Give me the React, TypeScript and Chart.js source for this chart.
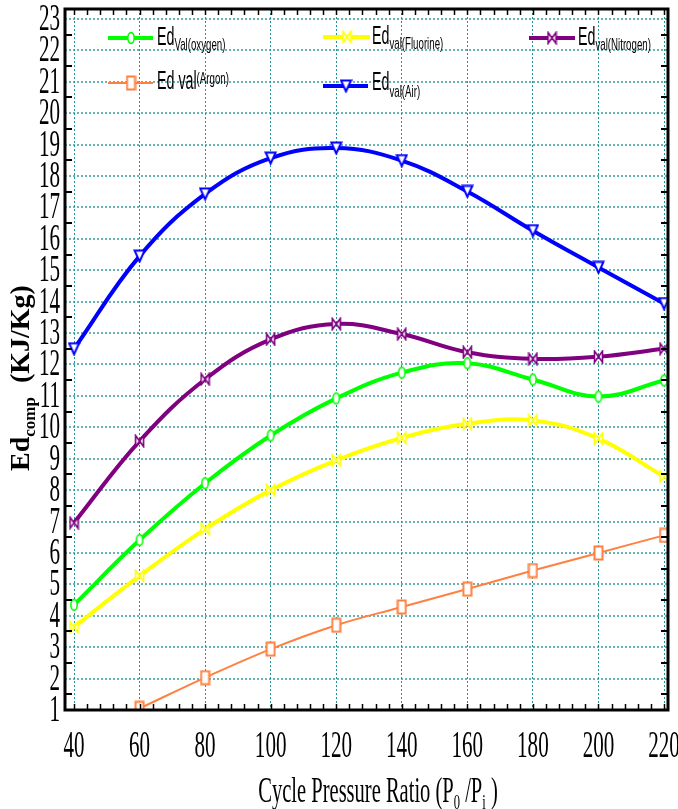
import React, { useEffect, useRef } from "react";
import { Chart, registerables } from "chart.js";

Chart.register(...registerables);

// Cycle pressure ratio (P0/Pi) at which each compressor exergy destruction was evaluated
const pressureRatios = [40, 60, 80, 100, 120, 140, 160, 180, 200, 220];

// Ed_comp (kJ/kg) for each working gas
const edOxygen = [4.35, 6.41, 8.22, 9.74, 10.92, 11.74, 12.04, 11.52, 10.98, 11.49];
const edFluorine = [3.64, 5.27, 6.76, 8.0, 8.95, 9.66, 10.11, 10.22, 9.64, 8.43];
const edNitrogen = [6.96, 9.56, 11.53, 12.8, 13.29, 12.97, 12.39, 12.18, 12.25, 12.5];
const edArgon = [null, 1.05, 2.03, 2.94, 3.7, 4.28, 4.85, 5.44, 6.0, 6.56];
const edAir = [12.5, 15.45, 17.43, 18.57, 18.89, 18.49, 17.51, 16.26, 15.09, 13.94];

// Axis tick labels
const xTickValues = [40, 60, 80, 100, 120, 140, 160, 180, 200, 220];
const yTickValues = [1, 2, 3, 4, 5, 6, 7, 8, 9, 10, 11, 12, 13, 14, 15, 16, 17, 18, 19, 20, 21, 22, 23];
const xMinorStep = 4;

const SERIF = '"Liberation Serif", "Times New Roman", serif';
const SANS = '"Liberation Sans", Arial, sans-serif';
const SQUEEZE = 0.57;

type Run = { text: string; size: number; dy: number };

function runsWidth(ctx: CanvasRenderingContext2D, runs: Run[], family: string, weight: string) {
  let w = 0;
  for (const r of runs) {
    ctx.font = `${weight} ${r.size}px ${family}`;
    w += ctx.measureText(r.text).width;
  }
  return w;
}

function drawRuns(
  ctx: CanvasRenderingContext2D,
  runs: Run[],
  x: number,
  y: number,
  family: string,
  weight: string,
  sx: number,
  align: "left" | "center" | "right",
  rotate = false
) {
  ctx.save();
  ctx.translate(x, y);
  if (rotate) ctx.rotate(-Math.PI / 2);
  ctx.scale(sx, 1);
  ctx.textAlign = "left";
  ctx.textBaseline = "alphabetic";
  ctx.fillStyle = "#000";
  const total = runsWidth(ctx, runs, family, weight);
  let cx = align === "center" ? -total / 2 : align === "right" ? -total : 0;
  for (const r of runs) {
    ctx.font = `${weight} ${r.size}px ${family}`;
    ctx.fillText(r.text, cx, r.dy);
    cx += ctx.measureText(r.text).width;
  }
  ctx.restore();
}

function makeMarker(kind: string, color: string) {
  const c = document.createElement("canvas");
  const sizes: Record<string, [number, number]> = {
    circle: [10, 14],
    bowtie: [11, 14],
    square: [11, 16],
    triangle: [13, 14],
  };
  const [w, h] = sizes[kind];
  c.width = w;
  c.height = h;
  const ctx = c.getContext("2d")!;
  ctx.fillStyle = "#fff";
  ctx.strokeStyle = color;
  ctx.lineJoin = "miter";
  ctx.beginPath();
  if (kind === "circle") {
    ctx.lineWidth = 1.6;
    ctx.ellipse(w / 2, h / 2, 3.2, 5.4, 0, 0, Math.PI * 2);
  } else if (kind === "bowtie") {
    ctx.lineWidth = 1.6;
    ctx.moveTo(1.5, 1.5);
    ctx.lineTo(w - 1.5, h - 1.5);
    ctx.lineTo(w - 1.5, 1.5);
    ctx.lineTo(1.5, h - 1.5);
    ctx.closePath();
  } else if (kind === "square") {
    ctx.lineWidth = 2;
    ctx.rect(1.5, 1.5, w - 3, h - 3);
  } else {
    ctx.lineWidth = 2;
    ctx.moveTo(1.5, 1.5);
    ctx.lineTo(w - 1.5, 1.5);
    ctx.lineTo(w / 2, h - 1.5);
    ctx.closePath();
  }
  ctx.fill();
  ctx.stroke();
  return c;
}

// Legend entries: dataset index, line segment, text anchor and rich text runs
const legendEntries: { ds: number; x0: number; x1: number; y: number; tx: number; ty: number; runs: Run[] }[] = [
  { ds: 0, x0: 108, x1: 153, y: 38, tx: 157, ty: 45, runs: [{ text: "Ed", size: 25, dy: 0 }, { text: "Val(oxygen)", size: 17, dy: 5 }] },
  { ds: 1, x0: 323, x1: 370, y: 37, tx: 372, ty: 44, runs: [{ text: "Ed", size: 25, dy: 0 }, { text: "val(Fluorine)", size: 17, dy: 5 }] },
  { ds: 2, x0: 529, x1: 575, y: 38, tx: 578, ty: 45, runs: [{ text: "Ed", size: 25, dy: 0 }, { text: "val(Nitrogen)", size: 17, dy: 5 }] },
  { ds: 3, x0: 108, x1: 153, y: 83, tx: 157, ty: 89, runs: [{ text: "Ed val", size: 25, dy: 0 }, { text: "(Argon)", size: 17, dy: -5 }] },
  { ds: 4, x0: 323, x1: 368, y: 86, tx: 372, ty: 90, runs: [{ text: "Ed", size: 25, dy: 0 }, { text: "val(Air)", size: 17, dy: 7 }] },
];

const decorPlugin = {
  id: "decor",
  afterDraw(chart: any) {
    const ctx: CanvasRenderingContext2D = chart.ctx;
    const { left, right, top, bottom } = chart.chartArea;
    const xs = chart.scales.x;
    const ys = chart.scales.y;

    // frame
    ctx.save();
    ctx.strokeStyle = "#000";
    ctx.lineWidth = 3;
    ctx.strokeRect(left, top, right - left, bottom - top);

    // inward minor ticks on left/right (between labelled values)
    ctx.lineWidth = 2;
    ctx.beginPath();
    for (let i = 0; i < yTickValues.length - 1; i++) {
      const py = Math.round(ys.getPixelForValue((yTickValues[i] + yTickValues[i + 1]) / 2));
      ctx.moveTo(left, py);
      ctx.lineTo(left + 7, py);
      ctx.moveTo(right, py);
      ctx.lineTo(right - 7, py);
    }
    ctx.stroke();

    // inward minor ticks on top/bottom
    ctx.lineWidth = 1.5;
    ctx.beginPath();
    const first = xTickValues[0];
    const last = xTickValues[xTickValues.length - 1];
    for (let v = first; v <= last; v += xMinorStep) {
      const px = Math.round(xs.getPixelForValue(v)) + 0.5;
      ctx.moveTo(px, bottom);
      ctx.lineTo(px, bottom - 6);
      ctx.moveTo(px, top);
      ctx.lineTo(px, top + 6);
    }
    ctx.stroke();
    ctx.restore();

    // tick labels
    for (const v of yTickValues) {
      const py = ys.getPixelForValue(v);
      drawRuns(ctx, [{ text: String(v), size: 37, dy: 0 }], 60, py + 11, SERIF, "normal", SQUEEZE, "right");
    }
    for (const v of xTickValues) {
      const px = xs.getPixelForValue(v);
      drawRuns(ctx, [{ text: String(v), size: 37, dy: 0 }], px, 757, SERIF, "normal", SQUEEZE, "center");
    }

    // axis titles
    drawRuns(
      ctx,
      [
        { text: "Cycle Pressure Ratio (P", size: 36, dy: 0 },
        { text: "0", size: 22, dy: 7 },
        { text: " /P", size: 36, dy: 0 },
        { text: "i", size: 22, dy: 7 },
        { text: " )", size: 36, dy: 0 },
      ],
      378,
      802,
      SERIF,
      "normal",
      SQUEEZE,
      "center"
    );
    drawRuns(
      ctx,
      [
        { text: "Ed", size: 28, dy: 0 },
        { text: "comp", size: 17, dy: 6 },
        { text: "  (KJ/Kg)", size: 28, dy: 0 },
      ],
      29,
      378,
      SERIF,
      "bold",
      1.0,
      "center",
      true
    );

    // legend
    for (const e of legendEntries) {
      const ds = chart.data.datasets[e.ds];
      ctx.save();
      ctx.strokeStyle = ds.borderColor;
      ctx.lineWidth = ds.borderWidth;
      ctx.beginPath();
      ctx.moveTo(e.x0, e.y);
      ctx.lineTo(e.x1, e.y);
      ctx.stroke();
      const img = ds.pointStyle as HTMLCanvasElement;
      const mx = Math.round((e.x0 + e.x1) / 2);
      ctx.drawImage(img, mx - img.width / 2, e.y - img.height / 2);
      ctx.restore();
      drawRuns(ctx, e.runs, e.tx, e.ty, SANS, "normal", SQUEEZE, "left");
    }
  },
};

export default function App() {
  const ref = useRef<HTMLCanvasElement>(null);

  useEffect(() => {
    const canvas = ref.current;
    if (!canvas) return;

    const series = [
      { label: "Ed Val(oxygen)", data: edOxygen, color: "#00ff00", width: 4, marker: "circle" },
      { label: "Ed val(Fluorine)", data: edFluorine, color: "#ffff00", width: 4, marker: "bowtie" },
      { label: "Ed val(Nitrogen)", data: edNitrogen, color: "#800080", width: 4, marker: "bowtie" },
      { label: "Ed val(Argon)", data: edArgon, color: "#ff8040", width: 2, marker: "square" },
      { label: "Ed val(Air)", data: edAir, color: "#0000ff", width: 4, marker: "triangle" },
    ];

    const chart = new Chart(canvas, {
      type: "line",
      data: {
        datasets: series.map((s) => ({
          label: s.label,
          data: pressureRatios.map((x, i) => ({ x, y: s.data[i] as number })),
          borderColor: s.color,
          backgroundColor: s.color,
          borderWidth: s.width,
          pointStyle: makeMarker(s.marker, s.color) as any,
          pointRadius: 5,
          tension: 0.4,
          fill: false,
          spanGaps: false,
        })),
      },
      options: {
        responsive: false,
        animation: false,
        devicePixelRatio: 1,
        events: [],
        layout: { padding: { left: 65, right: 10, top: 6, bottom: 99 } },
        plugins: { legend: { display: false }, tooltip: { enabled: false } },
        scales: {
          x: {
            type: "linear",
            min: 37.25,
            max: 221.22,
            afterBuildTicks: (axis: any) => {
              axis.ticks = xTickValues.map((value) => ({ value }));
            },
            ticks: { display: false },
            grid: { color: "rgba(0,128,128,0.85)", lineWidth: 1, drawTicks: false },
            border: { display: false, dash: [2, 2] },
          },
          y: {
            type: "linear",
            min: 1,
            max: 23.317,
            afterBuildTicks: (axis: any) => {
              axis.ticks = yTickValues.map((value) => ({ value }));
            },
            ticks: { display: false },
            grid: { color: "rgba(40,150,150,0.7)", lineWidth: 2, drawTicks: false },
            border: { display: false, dash: [2, 2] },
          },
        },
      },
      plugins: [decorPlugin],
    });

    return () => chart.destroy();
  }, []);

  return (
    <div style={{ position: "absolute", left: 0, top: 0, width: 678, height: 809, background: "#fff" }}>
      <canvas ref={ref} width={678} height={809} style={{ display: "block", width: 678, height: 809 }} />
    </div>
  );
}
